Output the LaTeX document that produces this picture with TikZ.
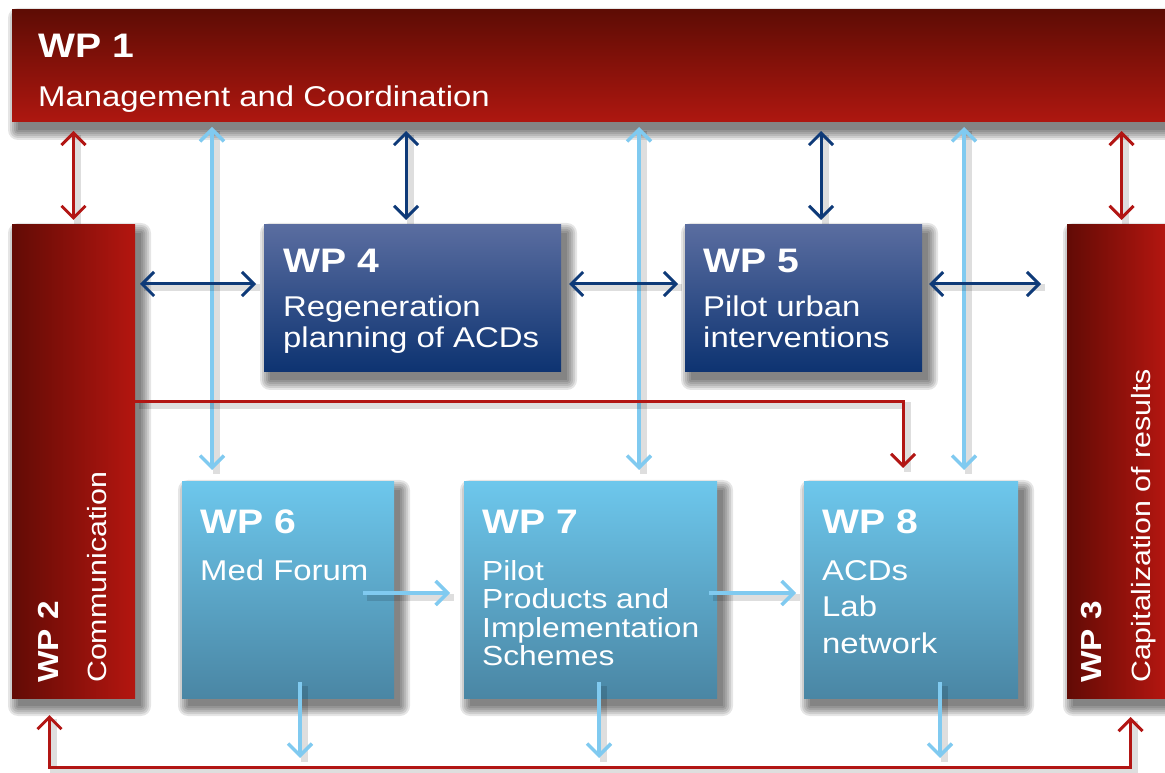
\documentclass[tikz,border=0pt]{standalone}
\usepackage{fontspec}
\setmainfont{Liberation Sans}[FakeStretch=1.15]
\usetikzlibrary{arrows.meta}
\definecolor{rTop}{RGB}{94,12,4}
\definecolor{rBot}{RGB}{174,23,16}
\definecolor{rLeft}{RGB}{98,11,5}
\definecolor{rRight}{RGB}{180,22,16}
\definecolor{bTop}{RGB}{90,109,160}
\definecolor{bBot}{RGB}{13,51,113}
\definecolor{lTop}{RGB}{109,199,236}
\definecolor{lBot}{RGB}{74,134,164}
\definecolor{redline}{RGB}{178,22,20}
\definecolor{dblue}{RGB}{14,58,120}
\definecolor{lblue}{RGB}{128,202,240}
\pgfdeclarelayer{whitelayer}
\pgfdeclarelayer{shadowlayer}
\pgfsetlayers{whitelayer,shadowlayer,main}
\newcommand\mlines[3]{{\fontsize{#1}{#2}\selectfont\begin{tabular}[t]{@{}l@{}}#3\end{tabular}}}
\begin{document}
\begin{tikzpicture}[x=1pt,y=1pt,
  box/.style={rectangle, inner sep=0pt, outer sep=0pt, anchor=north west, draw=none},
  redbox/.style={box, top color=rTop, bottom color=rBot},
  sidebox/.style={box, left color=rLeft, right color=rRight},
  bluebox/.style={box, top color=bTop, bottom color=bBot},
  lightbox/.style={box, top color=lTop, bottom color=lBot},
  ttl/.style={text=white, inner sep=0pt, anchor=base west, font=\bfseries\fontsize{34}{40}\selectfont},
  dsc/.style={text=white, inner sep=0pt, anchor=base west, font=\fontsize{28.6}{32}\selectfont},
  rttl/.style={ttl, rotate=90, font=\bfseries\fontsize{29}{34}\selectfont},
  rdsc/.style={dsc, rotate=90, font=\fontsize{26.4}{30}\selectfont},
  ash/.style={preaction={draw=black, opacity=0.13, line width=7pt, arrows=-, transform canvas={shift={(4pt,-4pt)}}}},
  redarr/.style={draw=redline, line width=3pt, ash},
  dbarr/.style={draw=dblue, line width=3pt, ash},
  lbarr/.style={draw=lblue, line width=3.5pt, ash},
  one/.style={-{Straight Barb[length=12pt,width=24pt]}},
  dbl/.style={{Straight Barb[length=12pt,width=24pt]}-{Straight Barb[length=12pt,width=24pt]}}
]
\useasboundingbox (0,0) rectangle (1165,772);
\begin{pgfonlayer}{whitelayer}
\fill[white] (0,0) rectangle (1165,772);
\end{pgfonlayer}

% boxes
\node[redbox, minimum width=1154pt, minimum height=112pt] (wp1) at (12,762) {};
\node[sidebox, minimum width=123pt, minimum height=473pt] (wp2) at (12,547) {};
\node[sidebox, minimum width=99pt, minimum height=473pt] (wp3) at (1067,547) {};
\node[bluebox, minimum width=297pt, minimum height=147pt] (wp4) at (264,547) {};
\node[bluebox, minimum width=237pt, minimum height=147pt] (wp5) at (685,547) {};
\node[lightbox, minimum width=212pt, minimum height=216pt] (wp6) at (182,290) {};
\node[lightbox, minimum width=253pt, minimum height=216pt] (wp7) at (464,290) {};
\node[lightbox, minimum width=214pt, minimum height=216pt] (wp8) at (804,290) {};

% box shadows
\begin{pgfonlayer}{shadowlayer}
\foreach \n in {wp1,wp2,wp3,wp4,wp5,wp6,wp7,wp8}{
  \foreach \d in {0,2,4,6,8,10}{
    \fill[black, opacity=0.1, rounded corners=\d pt]
      ([xshift={(6-\d)*1pt}, yshift={(-8+\d)*1pt}]\n.north west) rectangle
      ([xshift={(6+\d)*1pt}, yshift={(-8-\d)*1pt}]\n.south east);
  }
}
\end{pgfonlayer}

% texts
\node[ttl] (wp1t) at (38,714) {WP 1};
\node[dsc] (wp1d) at (38,665) {Management and Coordination};
\node[rttl] (wp2t) at (58,89) {WP 2};
\node[rdsc] (wp2d) at (106,89) {Communication};
\node[rttl] (wp3t) at (1101,89) {WP 3};
\node[rdsc] (wp3d) at (1150,89) {Capitalization of results};
\node[ttl] (wp4t) at (283,499) {WP 4};
\node[dsc] (wp4d) at (283,455) {\mlines{28.6}{31}{Regeneration\\planning of ACDs}};
\node[ttl] (wp5t) at (703,499) {WP 5};
\node[dsc] (wp5d) at (703,455) {\mlines{28.6}{31}{Pilot urban\\interventions}};
\node[ttl] (wp6t) at (200,239) {WP 6};
\node[dsc] (wp6d) at (200,192) {Med Forum};
\node[ttl] (wp7t) at (482,239) {WP 7};
\node[dsc] (wp7d) at (482,192) {\mlines{27.6}{28.5}{Pilot\\Products and\\Implementation\\Schemes}};
\node[ttl] (wp8t) at (822,239) {WP 8};
\node[dsc] (wp8d) at (822,192) {\mlines{28.6}{36.5}{ACDs\\Lab\\network}};

% helper coordinates
\coordinate (topA) at ([yshift=-9pt]wp1.south);
\coordinate (topB) at ([yshift=-5pt]wp1.south);
\coordinate (a2) at ([yshift=5pt]wp2.north);
\coordinate (a3) at ([xshift=5pt,yshift=5pt]wp3.north);
\coordinate (a4) at ([xshift=-6.5pt,yshift=5pt]wp4.north);
\coordinate (a5) at ([xshift=17.5pt,yshift=5pt]wp5.north);
\coordinate (a6) at ([xshift=-76pt,yshift=12pt]wp6.north);
\coordinate (a7) at ([xshift=48.5pt,yshift=12pt]wp7.north);
\coordinate (a8) at ([xshift=53pt,yshift=12pt]wp8.north);

% light blue verticals from WP1
\draw[lbarr,dbl] (topB -| a6) -- (a6);
\draw[lbarr,dbl] (topB -| a7) -- (a7);
\draw[lbarr,dbl] (topB -| a8) -- (a8);

% WP1 to WP2..WP5
\draw[redarr,dbl] (topA -| a2) -- (a2);
\draw[redarr,dbl] (topA -| a3) -- (a3);
\draw[dbarr,dbl] (topA -| a4) -- (a4);
\draw[dbarr,dbl] (topA -| a5) -- (a5);

% horizontal dark blue
\coordinate (h4) at ([yshift=14.5pt]wp4.west);
\coordinate (h2) at (h4 -| wp2.east);
\coordinate (h4e) at (h4 -| wp4.east);
\coordinate (h5) at (h4 -| wp5.west);
\coordinate (h5e) at (h4 -| wp5.east);
\coordinate (h3) at (h4 -| wp3.west);
\draw[dbarr,dbl] ([xshift=5pt]h2) -- ([xshift=-8pt]h4);
\draw[dbarr,dbl] ([xshift=8pt]h4e) -- ([xshift=-7pt]h5);
\draw[dbarr,dbl] ([xshift=7pt]h5e) -- ([xshift=-26pt]h3);

% red WP2 -> WP8
\coordinate (r2) at ([yshift=-177pt]wp2.north east);
\coordinate (r8) at ([xshift=-8pt,yshift=14pt]wp8.north);
\draw[redarr,one] (r2) -| (r8);

% light blue horizontals
\coordinate (m6) at ([xshift=-31pt,yshift=-3pt]wp6.east);
\coordinate (m7) at (m6 -| wp7.west);
\coordinate (n7) at ([xshift=-8pt,yshift=-3pt]wp7.east);
\coordinate (n8) at (n7 -| wp8.west);
\draw[lbarr,one] (m6) -- ([xshift=-14pt]m7);
\draw[lbarr,one] (n7) -- ([xshift=-8pt]n8);

% light blue downs
\coordinate (d6) at ([xshift=12pt,yshift=16pt]wp6.south);
\coordinate (e6) at ([xshift=12pt,yshift=-60pt]wp6.south);
\coordinate (d7) at ([xshift=8.5pt,yshift=16pt]wp7.south);
\coordinate (e7) at ([xshift=8.5pt,yshift=-60pt]wp7.south);
\coordinate (d8) at ([xshift=29pt,yshift=16pt]wp8.south);
\coordinate (e8) at ([xshift=29pt,yshift=-60pt]wp8.south);
\draw[lbarr,one] (d6) -- (e6);
\draw[lbarr,one] (d7) -- (e7);
\draw[lbarr,one] (d8) -- (e8);

% red bottom loop
\coordinate (b2) at ([xshift=-24pt,yshift=-17pt]wp2.south);
\coordinate (b3) at ([xshift=14pt,yshift=-19pt]wp3.south);
\coordinate (bl) at ([yshift=-52pt]b2);
\draw[redarr,dbl] (b2) -- (bl) -| (b3);
\end{tikzpicture}
\end{document}
